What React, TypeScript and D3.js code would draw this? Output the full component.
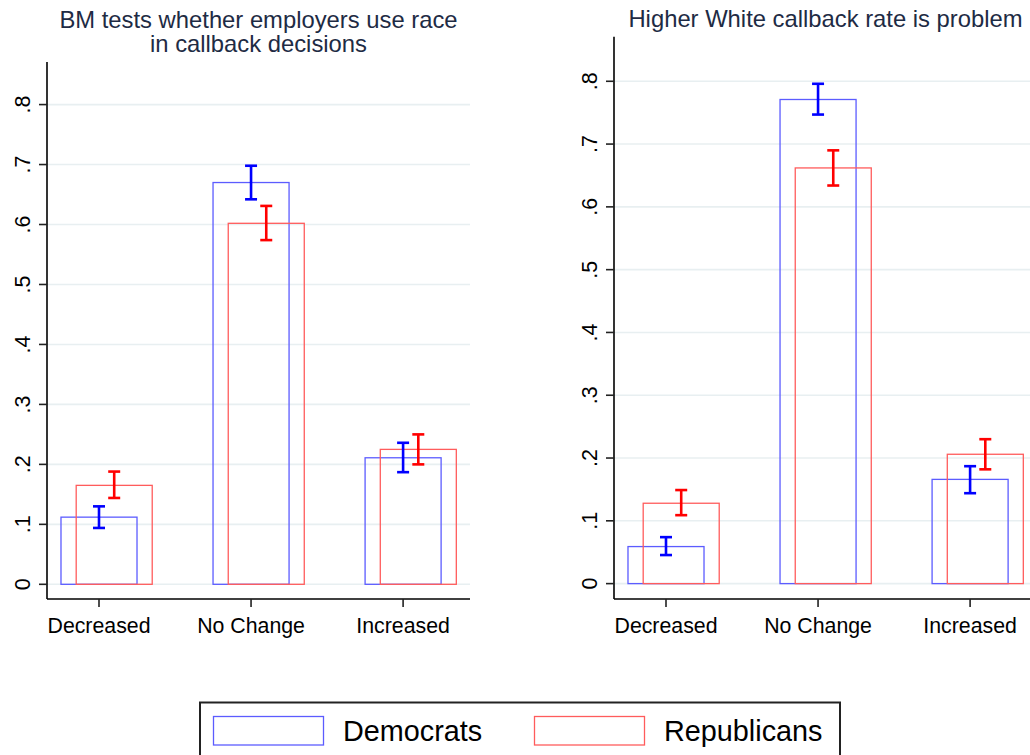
import React, { useEffect } from "react";
import * as d3 from "d3";

const categories = ["Decreased", "No Change", "Increased"];
const yTicks = [0, 0.1, 0.2, 0.3, 0.4, 0.5, 0.6, 0.7, 0.8];
const yTickLabels = ["0", ".1", ".2", ".3", ".4", ".5", ".6", ".7", ".8"];
const panelTitles = [
  ["BM tests whether employers use race", "in callback decisions"],
  ["Higher White callback rate is problem"],
];
const seriesNames = ["Democrats", "Republicans"];

// Panel 1
const p1DemMean = [0.112, 0.67, 0.211];
const p1DemLo = [0.094, 0.642, 0.187];
const p1DemHi = [0.13, 0.698, 0.236];
const p1RepMean = [0.165, 0.602, 0.225];
const p1RepLo = [0.144, 0.574, 0.2];
const p1RepHi = [0.188, 0.631, 0.25];

// Panel 2
const p2DemMean = [0.059, 0.771, 0.166];
const p2DemLo = [0.0455, 0.747, 0.144];
const p2DemHi = [0.074, 0.796, 0.187];
const p2RepMean = [0.128, 0.662, 0.206];
const p2RepLo = [0.109, 0.634, 0.182];
const p2RepHi = [0.149, 0.69, 0.23];

const DEM_BAR = "#5c5cff";
const REP_BAR = "#ff5c5c";
const DEM_ERR = "#0000ff";
const REP_ERR = "#ff0000";
const GRID = "#e8eff1";
const TITLE = "#1e2b44";
const FONT = "Arial, 'Liberation Sans', Helvetica, sans-serif";

type PanelProps = {
  left: number;
  right: number;
  top: number;
  bottom: number;
  title: string[];
  titleY: number;
  demMean: number[];
  demLo: number[];
  demHi: number[];
  repMean: number[];
  repLo: number[];
  repHi: number[];
};

function Panel(p: PanelProps) {
  const x = d3.scaleLinear().domain([0.658, 3.44]).range([p.left, p.right]);
  const y = d3.scaleLinear().domain([-0.0245, 0.871]).range([p.bottom, p.top]);
  const barHalf = 0.25;
  const repOff = 0.1;
  const cap = 6;
  const cx = (i: number) => i + 1;
  const centerX = (p.left + p.right) / 2;
  return (
    <g>
      {p.title.map((t, i) => (
        <text
          key={i}
          x={centerX}
          y={p.titleY + i * 24.5}
          textAnchor="middle"
          fontSize={23.8}
          fill={TITLE}
          fontFamily={FONT}
        >
          {t}
        </text>
      ))}
      {/* gridlines */}
      {yTicks.map((t, i) => (
        <line
          key={"g" + i}
          x1={p.left}
          x2={p.right}
          y1={y(t)}
          y2={y(t)}
          stroke={GRID}
          strokeWidth={1.6}
        />
      ))}
      {/* Dem bars */}
      {p.demMean.map((v, i) => (
        <rect
          key={"d" + i}
          x={x(cx(i) - barHalf)}
          y={y(v)}
          width={x(cx(i) + barHalf) - x(cx(i) - barHalf)}
          height={y(0) - y(v)}
          fill="none"
          stroke={DEM_BAR}
          strokeWidth={1.3}
        />
      ))}
      {/* Rep bars */}
      {p.repMean.map((v, i) => (
        <rect
          key={"r" + i}
          x={x(cx(i) + repOff - barHalf)}
          y={y(v)}
          width={x(cx(i) + barHalf) - x(cx(i) - barHalf)}
          height={y(0) - y(v)}
          fill="none"
          stroke={REP_BAR}
          strokeWidth={1.3}
        />
      ))}
      {/* error bars */}
      {[
        { lo: p.demLo, hi: p.demHi, off: 0, c: DEM_ERR },
        { lo: p.repLo, hi: p.repHi, off: repOff, c: REP_ERR },
      ].map((s, si) =>
        s.lo.map((lo, i) => {
          const xx = x(cx(i) + s.off);
          const hi = s.hi[i];
          return (
            <g key={"e" + si + i} stroke={s.c} strokeWidth={2.6}>
              <line x1={xx} x2={xx} y1={y(lo)} y2={y(hi)} />
              <line x1={xx - cap} x2={xx + cap} y1={y(lo)} y2={y(lo)} />
              <line x1={xx - cap} x2={xx + cap} y1={y(hi)} y2={y(hi)} />
            </g>
          );
        })
      )}
      {/* y axis */}
      <line x1={p.left} x2={p.left} y1={p.top} y2={p.bottom} stroke="#000" strokeWidth={1.6} />
      {yTicks.map((t, i) => (
        <g key={"yt" + i}>
          <line x1={p.left - 8} x2={p.left} y1={y(t)} y2={y(t)} stroke="#222" strokeWidth={1.6} />
          <text
            transform={`translate(${p.left - 17.5},${y(t)}) rotate(-90)`}
            textAnchor="middle"
            fontSize={21.5}
            fontFamily={FONT}
            fill="#000"
          >
            {yTickLabels[i]}
          </text>
        </g>
      ))}
      {/* x axis */}
      <line x1={p.left} x2={p.right} y1={p.bottom} y2={p.bottom} stroke="#000" strokeWidth={1.6} />
      {categories.map((c, i) => (
        <g key={"xt" + i}>
          <line x1={x(cx(i))} x2={x(cx(i))} y1={p.bottom} y2={p.bottom + 8} stroke="#222" strokeWidth={1.6} />
          <text
            x={x(cx(i))}
            y={p.bottom + 33.5}
            textAnchor="middle"
            fontSize={21.3}
            fontFamily={FONT}
            fill="#000"
          >
            {c}
          </text>
        </g>
      ))}
    </g>
  );
}

export default function App() {
  useEffect(() => {
    document.body.style.margin = "0";
  }, []);
  return (
    <svg
      width={1030}
      height={755}
      style={{ display: "block", position: "absolute", left: 0, top: 0, background: "#fff" }}
    >
      <rect x={0} y={0} width={1030} height={755} fill="#fff" />
      <Panel
        left={47}
        right={470}
        top={62}
        bottom={599}
        title={panelTitles[0]}
        titleY={27.5}
        demMean={p1DemMean}
        demLo={p1DemLo}
        demHi={p1DemHi}
        repMean={p1RepMean}
        repLo={p1RepLo}
        repHi={p1RepHi}
      />
      <Panel
        left={614}
        right={1037}
        top={36.7}
        bottom={599}
        title={panelTitles[1]}
        titleY={27}
        demMean={p2DemMean}
        demLo={p2DemLo}
        demHi={p2DemHi}
        repMean={p2RepMean}
        repLo={p2RepLo}
        repHi={p2RepHi}
      />
      {/* legend */}
      <rect x={200} y={702.5} width={640} height={60} fill="#fff" stroke="#222" strokeWidth={2} />
      <rect x={213.5} y={716.5} width={110} height={28.5} fill="none" stroke={DEM_BAR} strokeWidth={1.3} />
      <text x={343} y={741} fontSize={28.8} fontFamily={FONT} fill="#000">
        {seriesNames[0]}
      </text>
      <rect x={534.5} y={716.5} width={110} height={28.5} fill="none" stroke={REP_BAR} strokeWidth={1.3} />
      <text x={664} y={741} fontSize={28.8} fontFamily={FONT} fill="#000">
        {seriesNames[1]}
      </text>
    </svg>
  );
}
